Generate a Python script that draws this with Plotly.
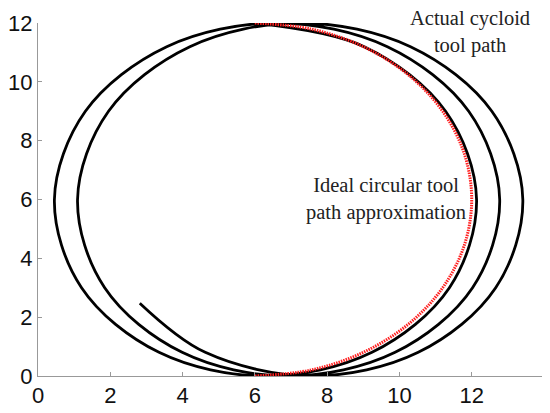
import plotly.graph_objects as go

cycloid_x = [2.816, 4.627, 7.574, 10.521, 12.663, 13.414, 12.557, 10.307, 7.254,
             4.201, 1.951, 1.094, 1.845, 3.987, 6.934, 9.881, 12.023, 12.774,
             11.917, 9.667, 6.614, 3.561, 1.311, 0.454, 1.205, 3.347, 6.294,
             9.241, 11.383, 12.134, 11.277, 9.027, 5.974]
cycloid_y = [2.473, 0.804, 0.0, 0.804, 3.0, 6.0, 9.0, 11.196, 12.0,
             11.196, 9.0, 6.0, 3.0, 0.804, 0.0, 0.804, 3.0, 6.0,
             9.0, 11.196, 12.0, 11.196, 9.0, 6.0, 3.0, 0.804, 0.0,
             0.804, 3.0, 6.0, 9.0, 11.196, 12.0]

# Aproximación circular ideal (semicírculo derecho)
ideal_x = [6.0, 7.553, 9.0, 10.243, 11.196, 11.796, 12.0, 11.796, 11.196, 10.243, 9.0, 7.553, 6.0]
ideal_y = [12.0, 11.796, 11.196, 10.243, 9.0, 7.553, 6.0, 4.447, 3.0, 1.757, 0.804, 0.204, 0.0]

x_ticks = [0, 2, 4, 6, 8, 10, 12]
y_ticks = [0, 2, 4, 6, 8, 10, 12]

fig = go.Figure()

fig.add_trace(go.Scatter(
    x=cycloid_x, y=cycloid_y, mode="lines",
    line=dict(color="black", width=2.8, shape="spline", smoothing=1),
    showlegend=False
))

fig.add_trace(go.Scatter(
    x=ideal_x, y=ideal_y, mode="lines",
    line=dict(color="#ff2020", width=3, dash="1.5px,1px", shape="spline", smoothing=1),
    showlegend=False
))

serif = dict(family="Liberation Serif, Times New Roman, serif", size=20.5, color="#222")
fig.add_annotation(x=11.94, y=11.7, xref="x", yref="y", text="Actual cycloid<br>tool path",
                   showarrow=False, font=serif, xanchor="center", yanchor="middle")
fig.add_annotation(x=9.62, y=6.03, xref="x", yref="y", text="Ideal circular tool<br>path approximation",
                   showarrow=False, font=serif, xanchor="center", yanchor="middle")

axis_common = dict(
    showgrid=False, zeroline=False, showline=True, linecolor="#999", linewidth=1,
    ticks="inside", ticklen=4, tickcolor="#999", tickwidth=1, automargin=False,
    tickfont=dict(family="Liberation Sans, Arial, sans-serif", size=22, color="#111"),
)

fig.update_xaxes(range=[0, 14], tickvals=x_ticks, **axis_common)
fig.update_yaxes(range=[0, 12], tickvals=y_ticks, ticklabelstandoff=0, **axis_common)

# la página añade 8px de margen, por eso la figura es algo menor que la ventana
fig.update_layout(
    width=542, height=405,
    plot_bgcolor="white", paper_bgcolor="white",
    margin=dict(l=30, r=6, t=15, b=37),
)

fig.write_html("out.html")
